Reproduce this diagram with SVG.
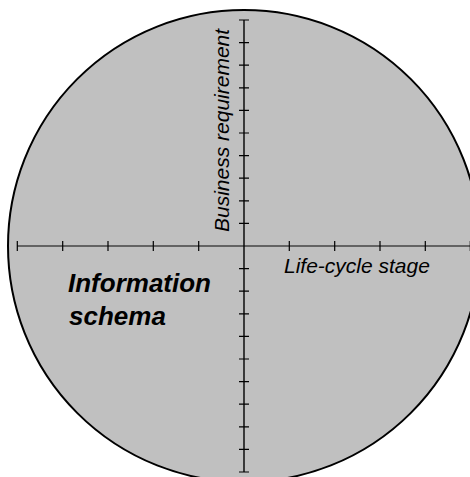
<svg xmlns="http://www.w3.org/2000/svg" width="470" height="477" viewBox="0 0 470 477">
<style>
.tick{stroke:#000;stroke-width:1.2;fill:none}
.lbl{font-family:"Liberation Sans",Arial,sans-serif;font-style:italic;fill:#000}
</style>
<rect width="470" height="477" fill="#fff"/>
<g id="disc"><circle cx="244" cy="246" r="236" fill="#c0c0c0" stroke="#000" stroke-width="2"/></g>
<g id="connectors">
<line x1="17" y1="246" x2="471" y2="246" stroke="#444" stroke-width="1.6"/>
<line x1="244" y1="20" x2="244" y2="472" stroke="#000" stroke-width="1.4"/>
<path class="tick" d="M17.3,241V251M62.7,241V251M108,241V251M153.3,241V251M198.7,241V251M289.3,241V251M334.7,241V251M380,241V251M425.3,241V251M470.3,241V251"/>
<path class="tick" d="M239,20H249M239,42.6H249M239,65.2H249M239,87.8H249M239,110.4H249M239,133H249M239,155.6H249M239,178.2H249M239,200.8H249M239,223.4H249M239,268.6H249M239,291.2H249M239,313.8H249M239,336.4H249M239,359H249M239,381.6H249M239,404.2H249M239,426.8H249M239,449.4H249M239,472H249"/>
</g>
<g id="label-business"><text class="lbl" font-size="21" transform="translate(229,232) rotate(-90)">Business requirement</text></g>
<g id="label-lifecycle"><text class="lbl" font-size="21" x="284" y="273">Life-cycle stage</text></g>
<g id="label-info"><text class="lbl" font-size="26" font-weight="bold"><tspan x="68" y="292">Information</tspan><tspan x="69" y="325">schema</tspan></text></g>
</svg>
